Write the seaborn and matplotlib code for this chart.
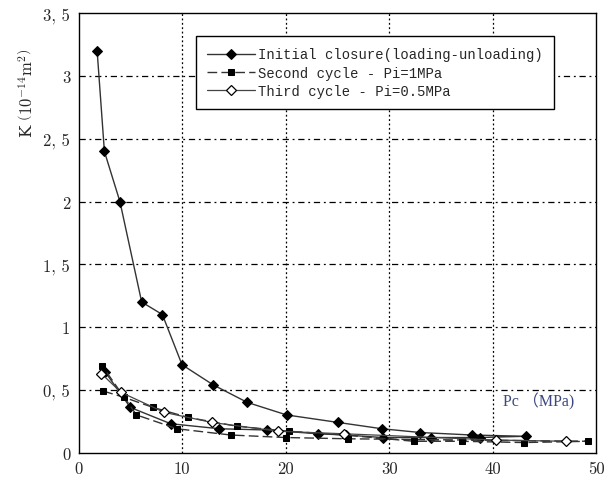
import matplotlib
matplotlib.use("Agg")
import matplotlib.pyplot as plt
import seaborn as sns
import pandas as pd

# Initial closure: loading path then unloading path
init_x = [1.8, 2.5, 4.0, 6.1, 8.1, 10.0, 13.0, 16.3, 20.1, 25.1, 29.3, 33.0, 38.0, 43.2,
          38.8, 34.0, 29.4, 25.8, 23.1, 18.2, 13.6, 8.9, 5.0, 2.6]
init_y = [3.2, 2.4, 2.0, 1.2, 1.1, 0.70, 0.54, 0.40, 0.30, 0.24, 0.19, 0.16, 0.14, 0.13,
          0.12, 0.12, 0.12, 0.14, 0.15, 0.18, 0.19, 0.23, 0.36, 0.64]

# Second cycle - Pi=1MPa
sec_x = [2.4, 4.4, 7.2, 10.6, 15.3, 20.3, 25.7, 32.4, 37.0, 43.0, 49.2,
         26.0, 20.0, 14.7, 9.5, 5.6, 2.3]
sec_y = [0.49, 0.44, 0.36, 0.28, 0.21, 0.17, 0.14, 0.09, 0.09, 0.08, 0.09,
         0.11, 0.12, 0.14, 0.19, 0.30, 0.69]

# Third cycle - Pi=0.5MPa
thr_x = [2.2, 4.1, 8.3, 12.9, 19.3, 25.6, 40.3, 47.1]
thr_y = [0.63, 0.48, 0.32, 0.24, 0.17, 0.15, 0.10, 0.09]

labels = ["Initial closure(loading-unloading)", "Second cycle - Pi=1MPa", "Third cycle - Pi=0.5MPa"]
yticks = [0, 0.5, 1, 1.5, 2, 2.5, 3, 3.5]
ytick_labels = ["0", "0, 5", "1", "1, 5", "2", "2, 5", "3", "3, 5"]
xticks = [0, 10, 20, 30, 40, 50]
xtick_labels = ["0", "10", "20", "30", "40", "50"]

sns.set_style("white")
plt.rcParams["mathtext.fontset"] = "cm"
plt.rcParams["font.family"] = ["DejaVu Serif"]

fig = plt.figure(figsize=(6.04, 4.81), dpi=100)
ax = fig.add_axes([0.130, 0.057, 0.857, 0.913])

d1 = pd.DataFrame({"x": init_x, "y": init_y})
d2 = pd.DataFrame({"x": sec_x, "y": sec_y})
d3 = pd.DataFrame({"x": thr_x, "y": thr_y})

sns.lineplot(data=d1, x="x", y="y", sort=False, ax=ax, color="#333333", lw=1.0,
             marker="D", markersize=5.5, markerfacecolor="black", markeredgecolor="black",
             label=labels[0], zorder=4)
sns.lineplot(data=d2, x="x", y="y", sort=False, ax=ax, color="#333333", lw=1.0,
             linestyle=(0, (7, 3)), marker="s", markersize=5, markerfacecolor="black",
             markeredgecolor="black", label=labels[1], zorder=4)
sns.lineplot(data=d3, x="x", y="y", sort=False, ax=ax, color="#444444", lw=0.9,
             marker="D", markersize=5, markerfacecolor="white", markeredgecolor="black",
             markeredgewidth=0.9, label=labels[2], zorder=5)

ax.set_xlim(0, 50)
ax.set_ylim(0, 3.5)
ax.set_xticks(xticks)
ax.set_xticklabels(xtick_labels, fontfamily="cmr10", fontsize=12)
ax.set_yticks(yticks)
ax.set_yticklabels(ytick_labels, fontfamily="cmr10", fontsize=12)
ax.tick_params(direction="in", length=5, width=1, color="black", pad=6)

for y in yticks[1:-1]:
    ax.axhline(y, color="black", lw=0.9, linestyle=(0, (5, 3, 1.5, 3)), zorder=1)
for x in xticks[1:-1]:
    ax.axvline(x, color="black", lw=0.9, linestyle=(0, (1.5, 2)), zorder=1)

for s in ax.spines.values():
    s.set_color("black")
    s.set_linewidth(1.0)

ax.set_xlabel("")
ax.set_ylabel(r"K $\left(10^{-14}\mathrm{m}^{2}\right)$", fontsize=12)
ax.yaxis.set_label_coords(-0.08, 0.82)

ax.text(41.0, 0.38, "Pc （MPa)", fontsize=11.5, color="#3c4680",
        fontfamily=["Liberation Serif", "Noto Sans CJK SC"], zorder=6)

leg = ax.legend(loc="upper left", bbox_to_anchor=(0.226, 0.948),
                prop={"family": "Liberation Mono", "size": 10},
                frameon=True, fancybox=False, edgecolor="black", framealpha=1,
                handlelength=3.5, handletextpad=0.2, labelspacing=0.3, borderpad=0.8,
                borderaxespad=0)
leg.get_frame().set_linewidth(1.0)
leg.set_zorder(10)

fig.savefig("out.png", dpi=100)
